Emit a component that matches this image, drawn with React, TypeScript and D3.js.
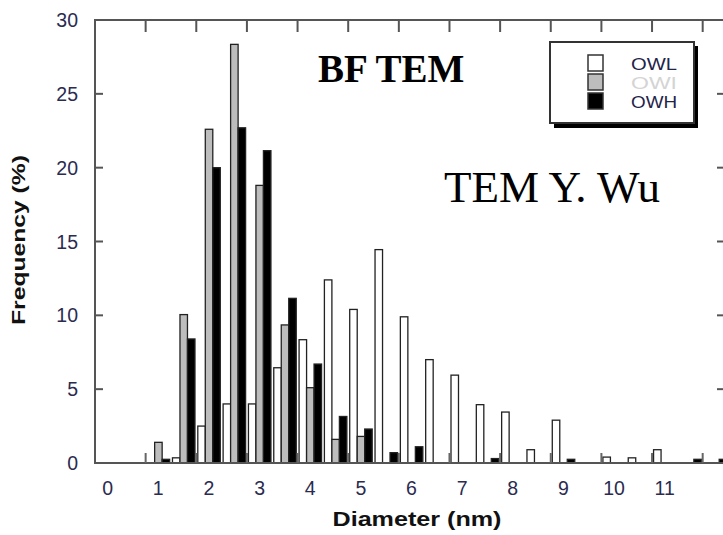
import React from 'react';
import * as d3 from 'd3';

// Bin start diameters (nm), bin width 0.5 nm
const bins = [1, 1.5, 2, 2.5, 3, 3.5, 4, 4.5, 5, 5.5, 6, 6.5, 7, 7.5, 8, 8.5, 9, 9.5, 10, 10.5, 11, 11.5, 12];
const owlValues = [0, 0.35, 2.5, 4.0, 4.0, 6.45, 8.35, 12.4, 10.4, 14.45, 9.9, 7.0, 5.95, 3.95, 3.45, 0.9, 2.9, 0, 0.4, 0.35, 0.9, 0, 0];
const owiValues = [1.4, 10.05, 22.6, 28.35, 18.8, 9.35, 5.1, 1.6, 1.8, 0, 0, 0, 0, 0, 0, 0, 0, 0, 0, 0, 0, 0, 0];
const owhValues = [0.25, 8.4, 20.0, 22.7, 21.15, 11.15, 6.7, 3.15, 2.3, 0.7, 1.1, 0, 0, 0.3, 0, 0, 0.25, 0, 0, 0, 0, 0.25, 0.25];

const seriesNames = ['OWL', 'OWI', 'OWH'];
const seriesFills = ['#ffffff', '#bdbdbd', '#000000'];
const legendTextColors = ['#23234a', '#d4d4d4', '#23234a'];

const yTickValues = [0, 5, 10, 15, 20, 25, 30];
const xLabelValues = [0, 1, 2, 3, 4, 5, 6, 7, 8, 9, 10, 11];
const xTickValues = [1, 2, 3, 4, 5, 6, 7, 8, 9, 10, 11, 12];

export default function App() {
  const W = 723;
  const H = 535;
  const x = d3.scaleLinear().domain([0, 12.5]).range([95, 728]);
  const y = d3.scaleLinear().domain([0, 30]).range([463, 20]);
  const barW = 0.148;
  const pxBarW = x(barW) - x(0);
  const series = [owlValues, owiValues, owhValues];
  const sans = '"Liberation Sans", Arial, sans-serif';
  const serif = '"Liberation Serif", "Times New Roman", serif';
  const tickColor = '#2b2b50';

  return (
    <svg width={W} height={H} style={{ position: 'absolute', left: 0, top: 0, background: '#fff' }}>
      {/* bars */}
      {series.map((vals, s) =>
        vals.map((v, i) =>
          v > 0 ? (
            <rect
              key={`b-${s}-${i}`}
              x={x(bins[i] + 0.03 + s * barW)}
              y={y(v)}
              width={pxBarW}
              height={y(0) - y(v)}
              fill={seriesFills[s]}
              stroke="#222"
              strokeWidth={1.3}
            />
          ) : null
        )
      )}
      {/* frame */}
      <rect x={x(0)} y={y(30)} width={x(12.5) - x(0)} height={y(0) - y(30)} fill="none" stroke="#555" strokeWidth={2} />
      {/* top & bottom ticks */}
      {xTickValues.map((t) => (
        <g key={`xt-${t}`}>
          <line x1={x(t)} x2={x(t)} y1={y(30)} y2={y(30) + 12} stroke="#555" strokeWidth={2} />
          <line x1={x(t)} x2={x(t)} y1={y(0)} y2={y(0) - 10} stroke="#666" strokeWidth={2} />
        </g>
      ))}
      {/* left & right ticks */}
      {yTickValues.slice(1, -1).map((t) => (
        <g key={`yt-${t}`}>
          <line x1={x(0)} x2={x(0) + 8} y1={y(t)} y2={y(t)} stroke="#555" strokeWidth={2} />
          <line x1={x(12.5)} x2={x(12.5) - 11} y1={y(t)} y2={y(t)} stroke="#555" strokeWidth={2} />
        </g>
      ))}
      {/* y tick labels */}
      {yTickValues.map((t) => (
        <text key={`yl-${t}`} x={78} y={y(t) + 7} textAnchor="end" fontFamily={sans} fontSize={19.5} fill={tickColor}>
          {t}
        </text>
      ))}
      {/* x tick labels */}
      {xLabelValues.map((t) => (
        <text key={`xl-${t}`} x={x(t + 0.25)} y={495} textAnchor="middle" fontFamily={sans} fontSize={19.5} fill={tickColor}>
          {t}
        </text>
      ))}
      {/* axis titles */}
      <text x={417} y={526} textAnchor="middle" fontFamily={sans} fontWeight="bold" fontSize={21} fill="#111" textLength={169} lengthAdjust="spacingAndGlyphs">
        Diameter (nm)
      </text>
      <text transform="translate(25,240) rotate(-90)" textAnchor="middle" fontFamily={sans} fontWeight="bold" fontSize={18} fill="#111" textLength={170} lengthAdjust="spacingAndGlyphs">
        Frequency (%)
      </text>
      {/* annotations */}
      <text x={318} y={82} fontFamily={serif} fontWeight="bold" fontSize={39} fill="#000">BF TEM</text>
      <text x={444} y={202} fontFamily={serif} fontSize={45} fill="#000">TEM Y. Wu</text>
      {/* legend */}
      <rect x={554} y={46} width={144} height={82} fill="#000" />
      <rect x={550} y={42} width={144} height={81} fill="#fff" stroke="#333" strokeWidth={2} />
      {seriesNames.map((n, i) => (
        <g key={`lg-${n}`}>
          <rect x={588} y={55 + i * 19} width={15} height={16} fill={seriesFills[i]} stroke="#333" strokeWidth={1.5} />
          <text x={631} y={70 + i * 19} fontFamily={sans} fontSize={16.5} fill={legendTextColors[i]} textLength={46} lengthAdjust="spacingAndGlyphs">
            {n}
          </text>
        </g>
      ))}
    </svg>
  );
}
